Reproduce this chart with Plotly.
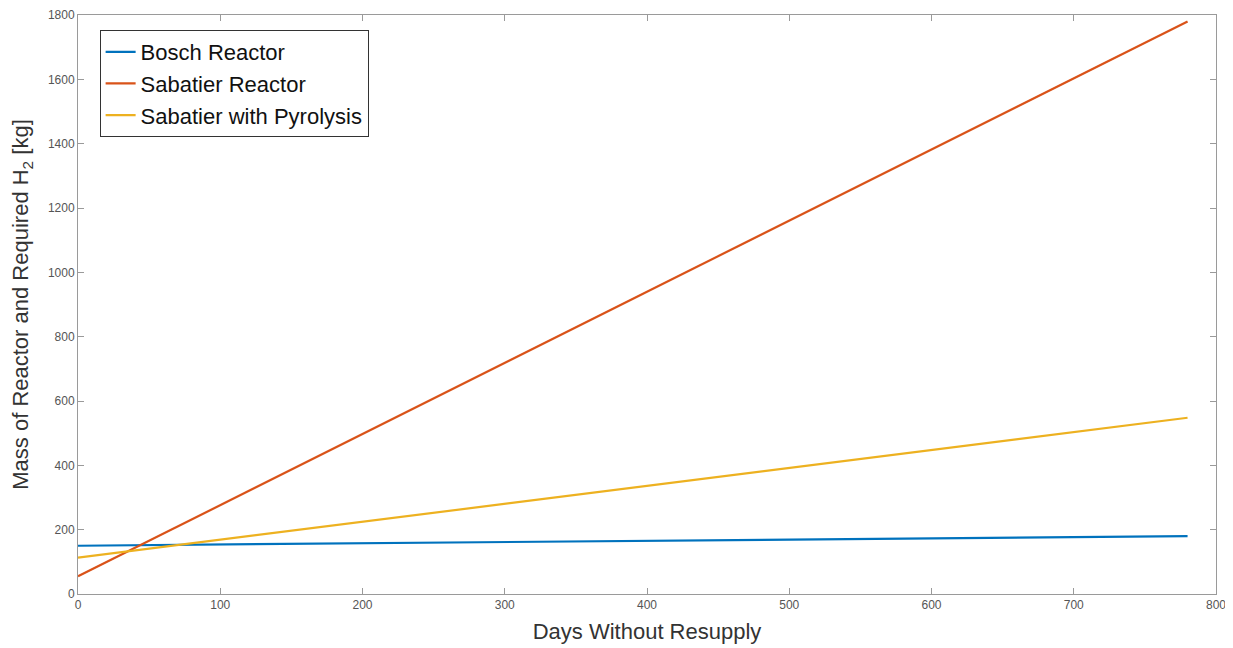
import plotly.graph_objects as go

days = [0, 780]
bosch = [150, 180]
sabatier = [55, 1780]
pyrolysis = [113, 548]

series = [
    ("Bosch Reactor", bosch, "#0072BD"),
    ("Sabatier Reactor", sabatier, "#D95319"),
    ("Sabatier with Pyrolysis", pyrolysis, "#EDB120"),
]

x_ticks = [0, 100, 200, 300, 400, 500, 600, 700, 800]
y_ticks = [0, 200, 400, 600, 800, 1000, 1200, 1400, 1600, 1800]

fig = go.Figure()
for name, vals, color in series:
    fig.add_trace(go.Scatter(x=days, y=vals, mode="lines", name=name,
                             line=dict(color=color, width=2.2)))

axis_common = dict(
    showgrid=False, zeroline=False, showline=True, linecolor="#9a9a9a", linewidth=1,
    mirror="ticks", ticks="inside", ticklen=6, tickcolor="#9a9a9a",
    tickfont=dict(family="Liberation Sans, Arial, sans-serif", size=12, color="#555555"),
    automargin=False,
)

fig.update_layout(
    width=1233, height=648,
    margin=dict(l=70, r=25, t=7, b=62, autoexpand=False),
    paper_bgcolor="white", plot_bgcolor="white",
    font=dict(family="Liberation Sans, Arial, sans-serif"),
    xaxis=dict(range=[0, 800], tickvals=x_ticks,
               title=dict(text="Days Without Resupply", font=dict(size=22, color="#333333"), standoff=12),
               **axis_common),
    yaxis=dict(range=[0, 1800], tickvals=y_ticks,
               title=dict(text="Mass of Reactor and Required H<sub>2</sub> [kg]", font=dict(size=22, color="#333333"), standoff=15),
               **axis_common),
    legend=dict(x=0.019, y=0.974, xanchor="left", yanchor="top",
                bgcolor="white", bordercolor="#333333", borderwidth=1,
                font=dict(size=22, color="#111111"), itemwidth=30,
                tracegroupgap=0),
    showlegend=True,
)

fig.write_html("out.html")
